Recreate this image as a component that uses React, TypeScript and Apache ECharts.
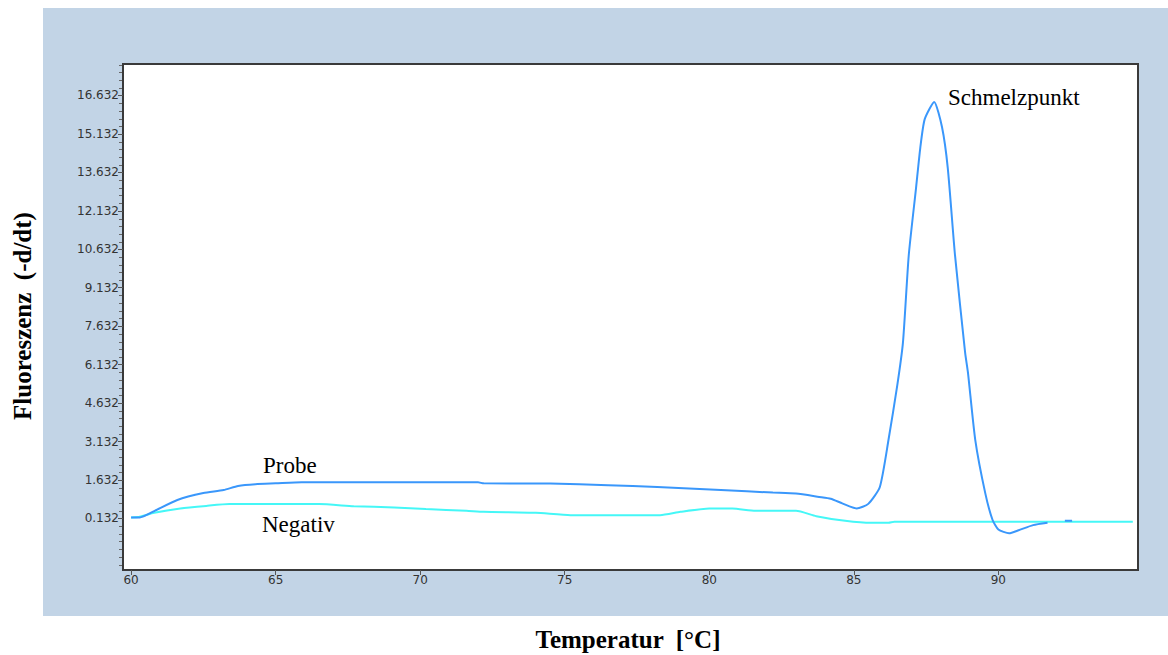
import React, { useEffect, useRef } from "react";
import * as echarts from "echarts";

// ---- data ----
const probeTemp = [60.0, 60.3, 60.8, 61.6, 62.5, 63.2, 63.7, 64.3, 65.0, 65.9, 68.0, 70.0, 72.0, 72.2, 74.5, 76.5, 78.2, 80.4, 82.2, 83.0, 83.8, 84.2, 84.6, 85.1, 85.5, 85.9, 86.2, 86.5, 86.7, 86.9, 87.15, 87.3, 87.45, 87.78, 88.05, 88.25, 88.5, 88.85, 88.95, 89.2, 89.55, 89.8, 90.0, 90.37, 90.7, 91.2, 91.7, 92.0, 92.3, 92.55];
const probeValue: (number | null)[] = [0.17, 0.17, 0.42, 0.85, 1.12, 1.24, 1.40, 1.47, 1.50, 1.54, 1.54, 1.54, 1.54, 1.50, 1.49, 1.43, 1.36, 1.24, 1.14, 1.10, 0.97, 0.90, 0.72, 0.52, 0.70, 1.36, 3.2, 5.3, 7.0, 10.4, 13.0, 14.6, 15.7, 16.38, 15.4, 13.8, 10.4, 6.6, 5.8, 3.2, 1.1, 0.07, -0.30, -0.45, -0.33, -0.13, -0.04, null, 0.04, 0.04];

const negTemp = [60.0, 60.3, 60.8, 61.7, 62.6, 63.4, 66.5, 67.7, 69.1, 70.2, 71.6, 72.2, 74.0, 75.2, 78.3, 79.0, 80.0, 80.8, 81.6, 83.0, 83.7, 84.7, 85.6, 86.2, 86.4, 94.65];
const negValue = [0.17, 0.20, 0.35, 0.52, 0.62, 0.69, 0.69, 0.61, 0.56, 0.50, 0.43, 0.39, 0.35, 0.26, 0.26, 0.39, 0.52, 0.52, 0.43, 0.43, 0.22, 0.04, -0.04, -0.04, 0.0, 0.0];

const xTickValues = [60, 65, 70, 75, 80, 85, 90];
const yTickLabels = ["0.132", "1.632", "3.132", "4.632", "6.132", "7.632", "9.132", "10.632", "12.132", "13.632", "15.132", "16.632"];
const yMinorTickLabels = ["-1.668", "-1.368", "-1.068", "-0.768", "-0.468", "-0.168", "0.432", "0.732", "1.032", "1.332", "1.932", "2.232", "2.532", "2.832", "3.432", "3.732", "4.032", "4.332", "4.932", "5.232", "5.532", "5.832", "6.432", "6.732", "7.032", "7.332", "7.932", "8.232", "8.532", "8.832", "9.432", "9.732", "10.032", "10.332", "10.932", "11.232", "11.532", "11.832", "12.432", "12.732", "13.032", "13.332", "13.932", "14.232", "14.532", "14.832", "15.432", "15.732", "16.032", "16.332", "16.932", "17.232", "17.532", "17.832"];

const seriesNames = ["Negativ", "Probe"];

const X_MIN = 59.72;
const X_MAX = 94.83;
const Y_MIN = -1.88;
const Y_MAX = 17.86;

export default function App() {
  const ref = useRef<HTMLDivElement>(null);

  useEffect(() => {
    if (!ref.current) return;
    const chart = echarts.init(ref.current, undefined, { renderer: "svg" });
    const probeData = probeTemp.map((t, i) => [t, probeValue[i]]);
    const negData = negTemp.map((t, i) => [t, negValue[i]]);
    const yMajor = yTickLabels.map((s) => parseFloat(s));
    const yMinor = yMinorTickLabels.map((s) => parseFloat(s));

    const baseGraphic: any[] = [
      {
        id: "panel",
        type: "rect",
        z: -10,
        shape: { x: 43, y: 8, width: 1125, height: 608 },
        style: { fill: "#c2d4e6" },
        silent: true,
      },
      {
        id: "ytitle",
        type: "text",
        x: 22,
        y: 316,
        rotation: Math.PI / 2,
        style: {
          text: "Fluoreszenz  (-d/dt)",
          fontFamily: "Liberation Serif",
          fontWeight: "bold",
          fontSize: 25,
          fill: "#000",
          align: "center",
          verticalAlign: "middle",
        },
      },
      {
        id: "xtitle",
        type: "text",
        x: 628,
        y: 639,
        style: {
          text: "Temperatur  [°C]",
          fontFamily: "Liberation Serif",
          fontWeight: "bold",
          fontSize: 25,
          fill: "#000",
          align: "center",
          verticalAlign: "middle",
        },
      },
      {
        id: "lblProbe",
        type: "text",
        x: 263,
        y: 465,
        z: 20,
        style: { text: "Probe", fontFamily: "Liberation Serif", fontSize: 23, fill: "#000", align: "left", verticalAlign: "middle" },
      },
      {
        id: "lblNeg",
        type: "text",
        x: 262,
        y: 524,
        z: 20,
        style: { text: "Negativ", fontFamily: "Liberation Serif", fontSize: 23, fill: "#000", align: "left", verticalAlign: "middle" },
      },
      {
        id: "lblPeak",
        type: "text",
        x: 948,
        y: 97,
        z: 20,
        style: { text: "Schmelzpunkt", fontFamily: "Liberation Serif", fontSize: 23, fill: "#000", align: "left", verticalAlign: "middle" },
      },
    ];

    chart.setOption({
      animation: false,
      backgroundColor: "#ffffff",
      graphic: baseGraphic,
      grid: {
        left: 123,
        top: 64,
        right: 30,
        bottom: 85,
        show: true,
        backgroundColor: "#ffffff",
        borderColor: "#3a3a3a",
        borderWidth: 2,
      },
      xAxis: {
        type: "value",
        min: X_MIN,
        max: X_MAX,
        axisLine: { show: true, onZero: false, lineStyle: { color: "#3a3a3a", width: 2 } },
        axisTick: { show: true, customValues: xTickValues, length: 5, lineStyle: { color: "#555" } },
        axisLabel: {
          customValues: xTickValues,
          fontFamily: "DejaVu Sans",
          fontSize: 12,
          color: "#333",
          margin: 4,
        },
        splitLine: { show: false },
      },
      yAxis: {
        type: "value",
        min: Y_MIN,
        max: Y_MAX,
        position: "left",
        axisLine: { show: true, onZero: false, lineStyle: { color: "#3a3a3a", width: 2 } },
        axisTick: { show: true, customValues: yMajor, length: 5, lineStyle: { color: "#555" } },
        axisLabel: {
          customValues: yMajor,
          formatter: (v: number) => v.toFixed(3),
          fontFamily: "DejaVu Sans",
          fontSize: 12,
          color: "#333",
          margin: 4,
        },
        splitLine: { show: false },
      },
      series: [
        {
          name: seriesNames[0],
          type: "line",
          data: negData,
          showSymbol: false,
          smooth: 0.2,
          lineStyle: { color: "#45f7f7", width: 2 },
          z: 3,
        },
        {
          name: seriesNames[1],
          type: "line",
          data: probeData,
          showSymbol: false,
          smooth: 0.2,
          connectNulls: false,
          lineStyle: { color: "#3a97fb", width: 2 },
          z: 4,
        },
      ],
    });

    // minor ticks on the y axis, positioned through the axis scale
    const xEdge = chart.convertToPixel({ xAxisIndex: 0 }, X_MIN) as number;
    const minorEls = yMinor.map((v, i) => {
      const y = Math.round(chart.convertToPixel({ yAxisIndex: 0 }, v) as number) + 0.5;
      return {
        id: "minor" + i,
        type: "line",
        z: 10,
        silent: true,
        shape: { x1: xEdge - 4, y1: y, x2: xEdge - 1, y2: y },
        style: { stroke: "#666", lineWidth: 1 },
      };
    });
    chart.setOption({ graphic: [...baseGraphic, ...minorEls] });

    return () => chart.dispose();
  }, []);

  return (
    <div
      ref={ref}
      style={{ position: "fixed", left: 0, top: 0, width: 1168, height: 655 }}
    />
  );
}
